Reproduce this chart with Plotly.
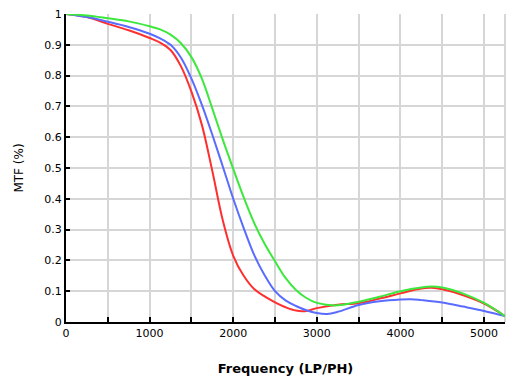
import plotly.graph_objects as go

red_x = [0, 250, 500, 750, 1000, 1125, 1250, 1375, 1500, 1625, 1750, 1875, 2000, 2125, 2250, 2375, 2500, 2625, 2750, 2875, 3000, 3250, 3500, 3750, 4000, 4250, 4375, 4500, 4750, 5000, 5250]
red_y = [1.0, 0.99, 0.968, 0.947, 0.922, 0.907, 0.883, 0.83, 0.748, 0.64, 0.49, 0.33, 0.215, 0.15, 0.107, 0.083, 0.064, 0.048, 0.037, 0.036, 0.045, 0.056, 0.061, 0.076, 0.093, 0.109, 0.111, 0.106, 0.087, 0.060, 0.019]

blue_x = [0, 250, 500, 750, 1000, 1125, 1250, 1375, 1500, 1625, 1750, 1875, 2000, 2125, 2250, 2375, 2500, 2625, 2750, 2875, 3000, 3125, 3250, 3500, 3750, 4000, 4125, 4250, 4500, 4750, 5000, 5250]
blue_y = [1.0, 0.99, 0.975, 0.958, 0.936, 0.921, 0.9, 0.858, 0.79, 0.705, 0.608, 0.505, 0.4, 0.305, 0.218, 0.152, 0.1, 0.07, 0.052, 0.038, 0.029, 0.026, 0.033, 0.055, 0.067, 0.073, 0.074, 0.071, 0.063, 0.050, 0.036, 0.019]

green_x = [0, 250, 500, 750, 1000, 1125, 1250, 1375, 1500, 1625, 1750, 1875, 2000, 2125, 2250, 2375, 2500, 2625, 2750, 2875, 3000, 3250, 3500, 3750, 4000, 4250, 4375, 4500, 4750, 5000, 5250]
green_y = [1.0, 0.995, 0.986, 0.976, 0.96, 0.95, 0.933, 0.905, 0.86, 0.79, 0.693, 0.592, 0.497, 0.405, 0.322, 0.254, 0.197, 0.143, 0.104, 0.078, 0.062, 0.054, 0.066, 0.082, 0.100, 0.112, 0.115, 0.112, 0.092, 0.062, 0.019]

x_ticks = [0, 500, 1000, 1500, 2000, 2500, 3000, 3500, 4000, 4500, 5000]
x_labels = ["0", "", "1000", "", "2000", "", "3000", "", "4000", "", "5000"]
y_ticks = [0, 0.1, 0.2, 0.3, 0.4, 0.5, 0.6, 0.7, 0.8, 0.9, 1]
y_labels = ["0", "0.1", "0.2", "0.3", "0.4", "0.5", "0.6", "0.7", "0.8", "0.9", "1"]

fig = go.Figure()
for xs, ys, col in [(red_x, red_y, "#ff2f2f"), (blue_x, blue_y, "#5a6cff"), (green_x, green_y, "#3de83d")]:
    fig.add_trace(go.Scatter(x=xs, y=ys, mode="lines",
                             line=dict(color=col, width=2, shape="spline", smoothing=1.0),
                             showlegend=False, hoverinfo="skip"))

fig.update_layout(
    width=512, height=384,
    margin=dict(l=66, r=7, t=14, b=62),
    paper_bgcolor="white", plot_bgcolor="white",
    font=dict(family="DejaVu Sans", size=11, color="black"),
)
fig.update_xaxes(range=[0, 5250], tickvals=x_ticks, ticktext=x_labels,
                 showgrid=True, gridcolor="#d6d6d6", gridwidth=2,
                 showline=True, linecolor="black", linewidth=2,
                 ticks="inside", ticklen=5, tickcolor="black", tickwidth=1.5,
                 zeroline=False, automargin=False, ticklabeloverflow="allow",
                 title=dict(text="<b>Frequency (LP/PH)</b>", font=dict(size=13), standoff=25))
fig.update_yaxes(range=[0, 1], tickvals=y_ticks, ticktext=y_labels,
                 showgrid=True, gridcolor="#d6d6d6", gridwidth=2,
                 showline=True, linecolor="black", linewidth=2,
                 ticks="inside", ticklen=4, tickcolor="black", tickwidth=1.5,
                 zeroline=False, automargin=False, ticklabeloverflow="allow",
                 title=dict(text="MTF (%)", font=dict(size=12), standoff=18))
fig.add_shape(type="line", xref="paper", yref="paper", x0=1, x1=1, y0=0, y1=1,
              line=dict(color="#d6d6d6", width=2), layer="below")

fig.write_html("out.html", config={"displayModeBar": False},
               post_script="document.body.style.margin='0';")
